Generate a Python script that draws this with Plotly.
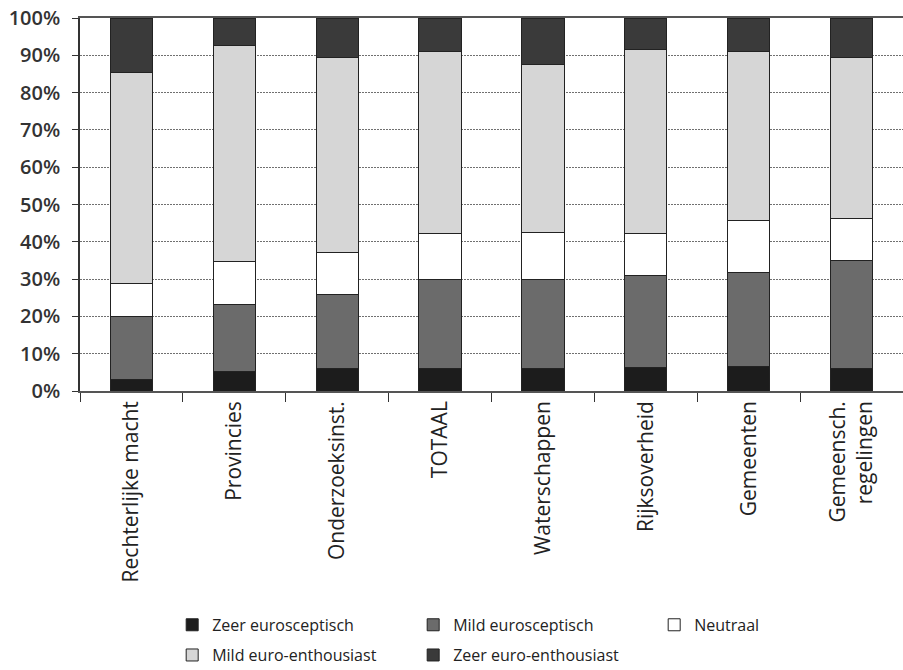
import plotly.graph_objects as go

categories = ["Rechterlijke macht", "Provincies", "Onderzoeksinst.", "TOTAAL",
              "Waterschappen", "Rijksoverheid", "Gemeenten", "Gemeensch.<br>regelingen"]

zeer_sceptisch = [3.2, 5.2, 5.9, 6.1, 6.1, 6.4, 6.5, 6.1]
mild_sceptisch = [16.8, 18.1, 20.0, 23.8, 23.9, 24.6, 25.3, 28.9]
neutraal = [8.7, 11.4, 11.3, 12.3, 12.5, 11.2, 14.0, 11.3]
mild_enthousiast = [56.8, 57.8, 52.3, 48.8, 45.1, 49.4, 45.1, 43.2]
zeer_enthousiast = [14.5, 7.5, 10.5, 9.0, 12.4, 8.4, 9.1, 10.5]

series = [
    ("Zeer eurosceptisch", zeer_sceptisch, "#1c1c1c", "legend"),
    ("Mild eurosceptisch", mild_sceptisch, "#6b6b6b", "legend"),
    ("Neutraal", neutraal, "#ffffff", "legend"),
    ("Mild euro-enthousiast", mild_enthousiast, "#d6d6d6", "legend2"),
    ("Zeer euro-enthousiast", zeer_enthousiast, "#3a3a3a", "legend2"),
]

fig = go.Figure()
for name, vals, col, lg in series:
    fig.add_trace(go.Bar(
        x=categories, y=vals, name=name, legend=lg,
        marker=dict(color=col, line=dict(color="#222222", width=1)),
        width=0.41,
    ))

legend_common = dict(
    orientation="h", xanchor="left", yanchor="middle",
    entrywidth=196, font=dict(size=16, color="#222222"),
    traceorder="normal", bgcolor="rgba(0,0,0,0)",
)

fig.update_layout(
    barmode="stack",
    width=903, height=670,
    margin=dict(l=80, r=0, t=18, b=279, autoexpand=False),
    paper_bgcolor="white", plot_bgcolor="white",
    font=dict(family="Open Sans", color="#222222"),
    legend=dict(legend_common, x=0.112, y=-0.627),
    legend2=dict(legend_common, x=0.112, y=-0.708),
)

fig.update_yaxes(
    range=[0, 100], dtick=10, ticksuffix="%",
    showgrid=True, gridcolor="#707070", griddash="2px,1px", gridwidth=1,
    showline=True, linecolor="#333333", linewidth=1.5,
    ticks="outside", ticklen=6, tickcolor="#333333",
    tickfont=dict(size=20, color="#333333", weight=600),
    ticklabelstandoff=8, automargin=False,
    zeroline=False,
)
fig.update_xaxes(
    tickangle=-90, tickfont=dict(size=21, color="#222222"),
    showline=True, linecolor="#555555", linewidth=1.5, mirror=True,
    ticks="outside", ticklen=9, tickcolor="#333333", tickson="boundaries",
    showgrid=False, automargin=False,
)

fig.write_html("out.html", config={"displayModeBar": False},
               post_script="document.body.style.margin='0';")
